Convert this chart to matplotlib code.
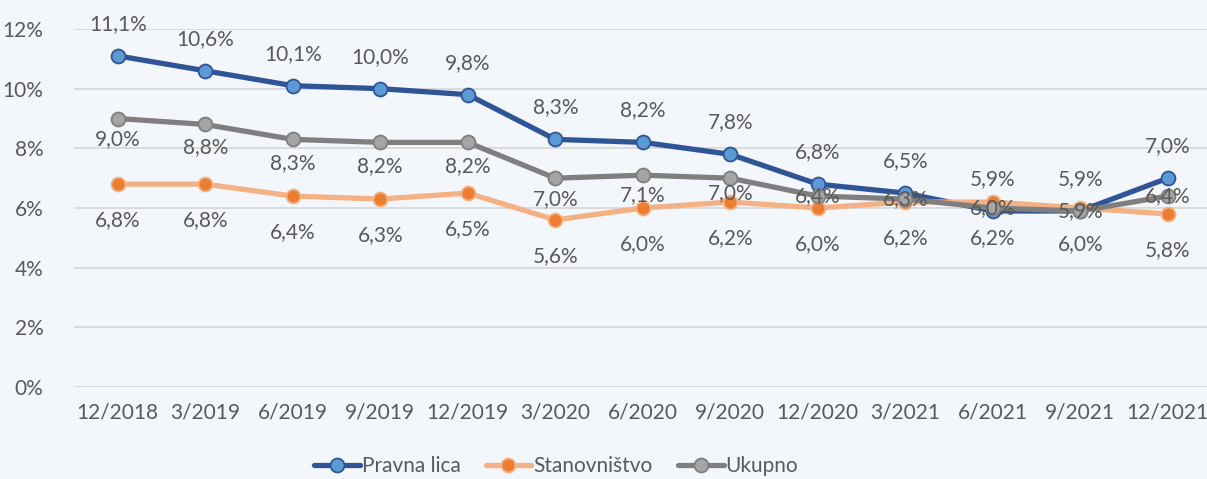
import numpy as np
import matplotlib.pyplot as plt
from matplotlib.ticker import FuncFormatter

plt.rcParams['font.family'] = ['Lato', 'DejaVu Sans']

# Data
periods = ["12/2018", "3/2019", "6/2019", "9/2019", "12/2019", "3/2020", "6/2020",
           "9/2020", "12/2020", "3/2021", "6/2021", "9/2021", "12/2021"]
pravna_lica = [11.1, 10.6, 10.1, 10.0, 9.8, 8.3, 8.2, 7.8, 6.8, 6.5, 5.9, 5.9, 7.0]
stanovnistvo = [6.8, 6.8, 6.4, 6.3, 6.5, 5.6, 6.0, 6.2, 6.0, 6.2, 6.2, 6.0, 5.8]
ukupno = [9.0, 8.8, 8.3, 8.2, 8.2, 7.0, 7.1, 7.0, 6.4, 6.3, 6.0, 5.9, 6.4]

# label offsets (points) for each series
off_pravna = [23] * 13
off_stan = [-26] * 13
off_uk = [-15, -16, -17, -17, -17, -15, -14, -11, 0, 0, 0, 0, 0]

bg = "#f3f6fb"
txt = "#595959"

fig = plt.figure(figsize=(12.07, 4.79), dpi=100, facecolor=bg)
ax = fig.add_axes([74 / 1207, 92 / 479, (1207 - 74) / 1207, 358 / 479])
ax.set_facecolor(bg)

x = np.arange(len(periods))
series = [
    ("Pravna lica", pravna_lica, "#2f5597", "#5b9bd5", off_pravna),
    ("Stanovništvo", stanovnistvo, "#f4b183", "#ed7d31", off_stan),
    ("Ukupno", ukupno, "#7f7f7f", "#a5a5a5", off_uk),
]

for name, vals, lc, mc, offs in series:
    ax.plot(x, vals, color=lc, lw=3.8, marker="o", markersize=10,
            markerfacecolor=mc, markeredgecolor=lc, markeredgewidth=1.3,
            label=name, solid_capstyle="round", clip_on=False)

for name, vals, lc, mc, offs in series:
    for xi, v, o in zip(x, vals, offs):
        ax.annotate(f"{v:.1f}%".replace(".", ","), (xi, v), xytext=(0, o),
                    textcoords="offset points", ha="center", va="center",
                    fontsize=15, color=txt, annotation_clip=False)

ax.set_xlim(-0.5, -0.5 + (1207 - 74) / 87.5)
ax.set_ylim(0, 12)
ax.set_yticks(np.arange(0, 13, 2))
ax.yaxis.set_major_formatter(FuncFormatter(lambda v, p: f"{v:.0f}%"))
ax.set_xticks(x)
ax.set_xticklabels(periods)
ax.grid(axis="y", color="#d9d9d9", lw=1.3)
ax.set_axisbelow(True)
for s in ax.spines.values():
    s.set_visible(False)
ax.tick_params(length=0, labelsize=15, colors=txt, pad=11)
ax.tick_params(axis="y", pad=22)

leg = fig.legend(loc="center", bbox_to_anchor=(556 / 1207, 13 / 479), ncol=3,
                 frameon=False, fontsize=15, handlelength=2.2, columnspacing=1.2,
                 handletextpad=0.1, labelcolor=txt, borderpad=0.2)

fig.savefig("out.png", dpi=100, facecolor=bg)
